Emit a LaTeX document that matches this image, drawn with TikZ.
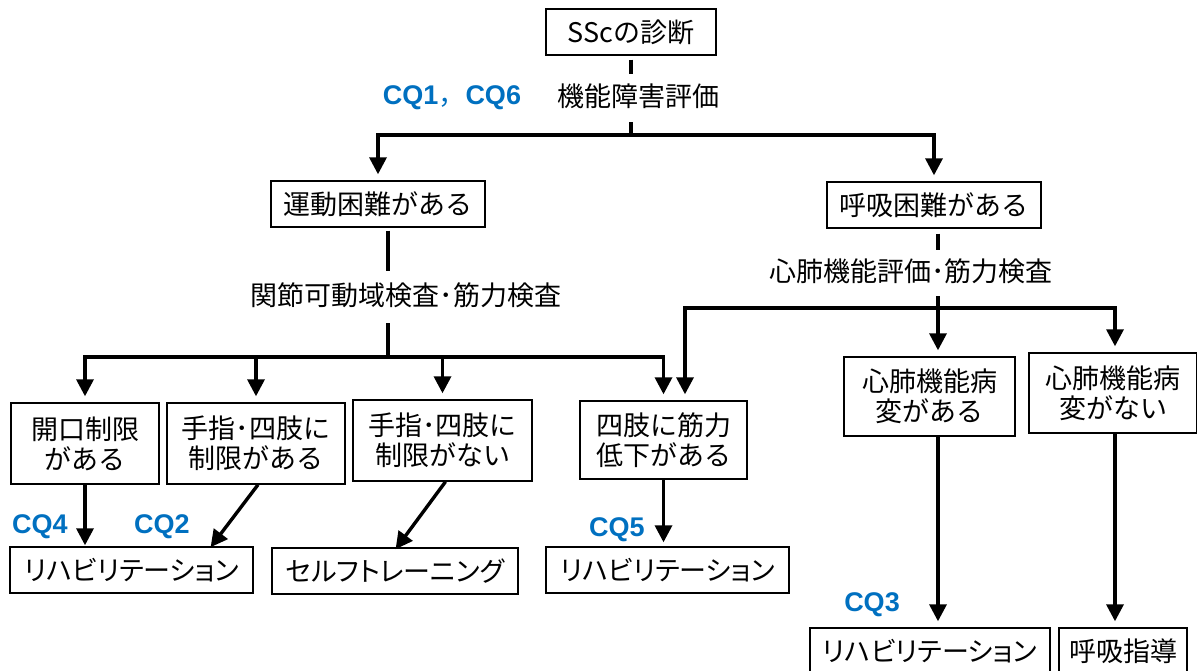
\documentclass[tikz,border=0pt]{standalone}
\usepackage{fontspec}
\setmainfont{Noto Sans CJK JP}
\newfontfamily\kanafont[RawFeature=+palt]{Noto Sans CJK JP}
\newfontfamily\cqfont{Liberation Sans}
\usetikzlibrary{arrows.meta,backgrounds}
\definecolor{cqblue}{RGB}{0,112,192}
\newcommand\jpsize{\fontsize{27}{30}\selectfont}

\tikzset{
  box/.style={draw,line width=1.4pt,inner sep=0pt,align=center,font=\jpsize},
  kana/.style={box,font=\jpsize\kanafont},
  lbl/.style={fill=white,font=\jpsize,inner xsep=4pt,inner ysep=12pt,
    text height=20pt,text depth=4pt},
  cq/.style={text=cqblue,font=\cqfont\bfseries\fontsize{27}{29}\selectfont},
  conn/.style={line width=3.4pt},
  arr/.style={conn,-{Triangle[length=17pt,width=17pt]},shorten >=6pt},
  arr2/.style={conn,{Triangle[length=17pt,width=17pt]}-{Triangle[length=17pt,width=17pt]},
    shorten >=6pt,shorten <=6pt}
}

\begin{document}
\begin{tikzpicture}[x=1pt,y=-1pt]
\useasboundingbox (0,0) rectangle (1197,670);

% top
\node[box,minimum width=170pt,minimum height=46pt] (ssc) at (631,32) {SScの診断};
\node[lbl] (evalA) at (638,98) {機能障害評価};
\node[cq] (cq16) at (452,98) {CQ1{\normalfont ，}CQ6};
\node[box,minimum width=214pt,minimum height=46pt] (motion) at (378,204) {運動困難がある};
\node[box,minimum width=214pt,minimum height=46pt] (breath) at (934,205) {呼吸困難がある};

% left branch
\node[lbl,inner ysep=14pt] (evalB) at (406,297) {関節可動域検査･筋力検査};
\node[box,minimum width=148pt,minimum height=81pt] (mouth) at (85,443.5) {開口制限\\がある};
\node[box,minimum width=178pt,minimum height=81pt] (limbY) at (256,443.5) {手指･四肢に\\制限がある};
\node[box,minimum width=179pt,minimum height=81pt] (limbN) at (442.5,440.5) {手指･四肢に\\制限がない};
\node[box,minimum width=167pt,minimum height=78pt] (weak) at (663.5,440) {四肢に筋力\\低下がある};
\node[kana,minimum width=243pt,minimum height=46pt] (rehabA) at (131.5,570) {リハビリテーション};
\node[kana,minimum width=246pt,minimum height=46pt] (self) at (395,571) {セルフトレーニング};
\node[kana,minimum width=243pt,minimum height=46pt] (rehabB) at (667.5,570) {リハビリテーション};
\node[cq] (cq4) at (40,527) {CQ4};
\node[cq] (cq2) at (162,527) {CQ2};
\node[cq] (cq5) at (617,530) {CQ5};

% right branch
\node[lbl,inner ysep=11pt] (evalC) at (911,273) {心肺機能評価･筋力検査};
\node[box,minimum width=171pt,minimum height=79pt] (heartY) at (929.5,396.5) {心肺機能病\\変がある};
\node[box,minimum width=168pt,minimum height=80pt] (heartN) at (1113,393) {心肺機能病\\変がない};
\node[kana,minimum width=240pt,minimum height=46pt] (rehabC) at (930,651) {リハビリテーション};
\node[box,minimum width=128pt,minimum height=46pt] (guide) at (1123,651) {呼吸指導};
\node[cq] (cq3) at (872,605) {CQ3};

\coordinate (j1) at (631,135);
\coordinate (j2) at (388,357);
\coordinate (j3) at (938,308);
\coordinate (jW) at (685,308);
\coordinate (jN) at (1115,308);
\coordinate (tA) at (210,548);
\coordinate (tS) at (395,550);

\begin{scope}[on background layer]
\draw[conn,shorten <=4pt] (ssc) -- (j1);
\draw[arr2] (motion.north) |- (j1) -| (breath.north);

\draw[conn,shorten <=3pt] (motion.south -| j2) -- (j2);
\draw[arr2] (mouth.north) |- (j2) -| (weak.north);
\draw[arr] (limbY.north |- j2) -- (limbY.north);
\draw[arr] (limbN.north |- j2) -- (limbN.north);

\draw[conn,shorten <=5pt] (breath.south -| j3) -- (j3);
\draw[arr2] (weak.north -| jW) -- (jW) -- (jN) -- (heartN.north -| jN);
\draw[arr] (j3) -- (heartY.north -| j3);

\draw[arr,shorten >=1pt] (mouth.south) -- (mouth.south |- rehabA.north);
\draw[arr,shorten >=1pt] ([xshift=2pt]limbY.south) -- (tA);
\draw[arr,shorten >=1pt] ([xshift=3pt]limbN.south) -- (tS);
\draw[arr,shorten >=4pt] (weak.south) -- (weak.south |- rehabB.north);
\draw[arr] (heartY.south -| j3) -- (rehabC.north -| j3);
\draw[arr] (heartN.south -| jN) -- (guide.north -| jN);
\end{scope}
\end{tikzpicture}
\end{document}
